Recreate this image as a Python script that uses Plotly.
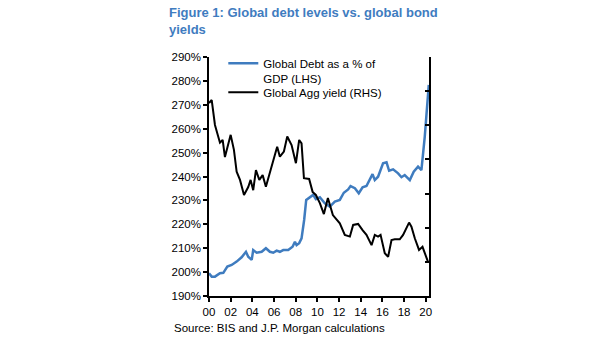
import plotly.graph_objects as go

# ---- data ----
debt_years = [2000.0, 2000.25, 2000.55, 2001.01, 2001.32, 2001.69, 2002.09, 2002.55, 2003.01, 2003.41,
              2003.62, 2003.94, 2004.08, 2004.40, 2004.86, 2005.25, 2005.62, 2005.93, 2006.24, 2006.54,
              2006.85, 2007.31, 2007.71, 2007.93, 2008.08, 2008.32, 2008.54, 2008.78, 2008.97, 2009.31,
              2009.61, 2009.86, 2010.23, 2010.69, 2011.15, 2011.61, 2012.07, 2012.44, 2012.84, 2013.06,
              2013.46, 2013.82, 2014.17, 2014.53, 2014.84, 2015.09, 2015.30, 2015.60, 2015.83, 2016.06,
              2016.38, 2016.62, 2016.99, 2017.45, 2017.76, 2018.06, 2018.53, 2018.89, 2019.29, 2019.60,
              2019.91, 2020.28]
debt_pct = [199.5, 198.1, 198.1, 199.5, 199.7, 202.3, 203.0, 204.4, 206.2, 208.5,
            206.4, 205.1, 209.2, 208.1, 208.5, 210.0, 208.5, 208.1, 209.0, 208.5,
            209.2, 209.2, 210.6, 212.7, 211.3, 212.1, 214.1, 221.8, 230.2, 231.5,
            232.3, 230.5, 231.3, 228.8, 227.4, 229.5, 230.2, 233.2, 234.6, 236.0,
            235.1, 233.0, 235.5, 236.0, 238.5, 241.0, 238.5, 239.9, 242.7, 245.5,
            245.9, 242.4, 243.0, 241.3, 239.7, 240.6, 238.5, 242.0, 244.1, 242.7,
            256.7, 278.3]

yield_years = [2000.0, 2000.25, 2000.55, 2001.01, 2001.26, 2001.47, 2001.69, 2002.0, 2002.30, 2002.55,
               2002.86, 2003.23, 2003.62, 2003.84, 2004.08, 2004.33, 2004.64, 2004.95, 2005.25, 2005.69,
               2006.08, 2006.29, 2006.54, 2006.91, 2007.22, 2007.62, 2008.02, 2008.32, 2008.54, 2008.76,
               2009.24, 2009.56, 2009.86, 2010.23, 2010.60, 2010.97, 2011.43, 2012.07, 2012.53, 2013.0,
               2013.30, 2013.76, 2014.17, 2014.53, 2015.0, 2015.30, 2015.60, 2015.83, 2016.22, 2016.53,
               2016.84, 2017.14, 2017.60, 2017.91, 2018.46, 2018.68, 2018.99, 2019.38, 2019.70, 2020.0,
               2020.21]
yield_pct = [5.65, 5.74, 5.01, 4.49, 4.57, 4.07, 4.34, 4.72, 4.28, 3.64,
             3.40, 2.96, 3.19, 3.40, 3.10, 3.69, 3.40, 3.54, 3.20, 3.69,
             4.08, 4.37, 4.08, 4.23, 4.67, 4.42, 3.89, 4.57, 4.47, 3.45,
             3.43, 3.05, 2.96, 2.72, 2.40, 2.87, 2.37, 2.13, 1.79, 1.74,
             2.08, 2.11, 1.93, 1.79, 1.49, 1.79, 1.74, 1.79, 1.25, 1.15,
             1.64, 1.66, 1.66, 1.79, 2.15, 2.03, 1.69, 1.35, 1.44, 1.15,
             1.00]

x_tickvals = [2000, 2002, 2004, 2006, 2008, 2010, 2012, 2014, 2016, 2018, 2020]
x_ticktext = ["00", "02", "04", "06", "08", "10", "12", "14", "16", "18", "20"]

title_text = "<b>Figure 1: Global debt levels vs. global bond<br>yields</b>"
source_text = "Source: BIS and J.P. Morgan calculations"

BLUE = "#3F7CBF"
FONT = "Liberation Sans, Arial, sans-serif"

fig = go.Figure()
fig.add_trace(go.Scatter(x=debt_years, y=debt_pct, mode="lines",
                         name="Global Debt as a % of<br>GDP (LHS)",
                         line=dict(color=BLUE, width=2.5), yaxis="y", legend="legend"))
fig.add_trace(go.Scatter(x=yield_years, y=yield_pct, mode="lines",
                         name="Global Agg yield (RHS)",
                         line=dict(color="black", width=2), yaxis="y2", legend="legend2"))

legend_common = dict(xanchor="left", yanchor="top", bgcolor="rgba(0,0,0,0)",
                     font=dict(family=FONT, size=11.5, color="black"), valign="top")

fig.update_layout(
    width=605, height=341,
    margin=dict(l=209, r=176, t=57, b=45),
    paper_bgcolor="white", plot_bgcolor="white",
    font=dict(family=FONT, size=11, color="black"),
    showlegend=True,
    legend=dict(x=0.065, y=1.0326, **legend_common),
    legend2=dict(x=0.065, y=0.911, **legend_common),
    xaxis=dict(range=[2000, 2020.3], tickvals=x_tickvals, ticktext=x_ticktext,
               showgrid=False, zeroline=False, showline=True, linecolor="black", linewidth=1.5,
               ticks="outside", ticklen=4, tickcolor="black", tickwidth=1.5,
               tickfont=dict(size=11.5)),
    yaxis=dict(range=[190, 290], dtick=10, ticksuffix="%",
               showgrid=False, zeroline=False, showline=True, linecolor="black", linewidth=1.5,
               ticks="outside", ticklen=4, tickcolor="black", tickwidth=1.5,
               tickfont=dict(size=11.5)),
    yaxis2=dict(range=[0, 7], dtick=1, overlaying="y", side="right",
                showticklabels=False, showgrid=False, zeroline=False,
                showline=True, linecolor="black", linewidth=1.5,
                ticks="inside", ticklen=4, tickcolor="black", tickwidth=1.5),
    annotations=[
        dict(text=title_text, xref="paper", yref="paper",
             x=(167-209)/220, y=(296-3)/239, xanchor="left", yanchor="top", align="left",
             showarrow=False, font=dict(family=FONT, size=13, color=BLUE)),
        dict(text=source_text, xref="paper", yref="paper",
             x=(172-209)/220, y=(296-328)/239, xanchor="left", yanchor="middle",
             showarrow=False, font=dict(family=FONT, size=11.5, color="black")),
    ],
)

fig.write_html("out.html")
